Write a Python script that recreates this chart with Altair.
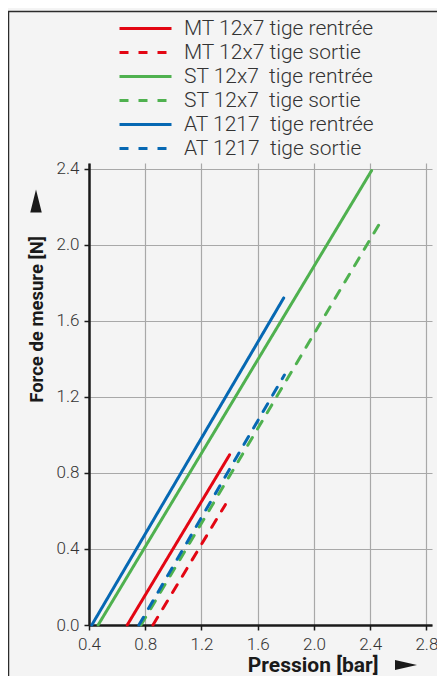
import altair as alt
import pandas as pd

NB = "\u00a0"
series = [
    "MT 12x7" + NB + "tige rentrée",
    "MT 12x7" + NB + "tige sortie",
    "ST 12x7" + NB * 2 + "tige rentrée",
    "ST 12x7" + NB * 2 + "tige sortie",
    "AT 1217" + NB * 2 + "tige rentrée",
    "AT 1217" + NB * 2 + "tige sortie",
]
colors = ["#e30613", "#e30613", "#4fb14f", "#4fb14f", "#0668b3", "#0668b3"]
dashes = [[1, 0], [9, 10], [1, 0], [9, 10], [1, 0], [9, 10]]

# start / end points of each (straight) characteristic line
x_start = [0.672, 0.855, 0.465, 0.77, 0.42, 0.755]
y_start = [0.0, 0.0, 0.0, 0.0, 0.0, 0.0]
x_end = [1.40, 1.37, 2.41, 2.49, 1.785, 1.79]
y_end = [0.895, 0.633, 2.39, 2.14, 1.72, 1.315]

x_ticks = [0.4, 0.8, 1.2, 1.6, 2.0, 2.4, 2.8]
y_ticks = [0.0, 0.4, 0.8, 1.2, 1.6, 2.0, 2.4]

rows = []
for i, s in enumerate(series):
    rows.append({"series": s, "p": x_start[i], "f": y_start[i], "k": 0})
    rows.append({"series": s, "p": x_end[i], "f": y_end[i], "k": 1})
df = pd.DataFrame(rows)

FONT = "Roboto"
TXT = "#333333"
DARK = "#1a1a1a"

lines = alt.Chart(df).mark_line(strokeWidth=3, strokeCap="round").encode(
    x=alt.X("p:Q",
            scale=alt.Scale(domain=[0.4, 2.84], nice=False, zero=False),
            axis=alt.Axis(values=x_ticks, format=".1f",
                          title="Pression [bar]",
                          titleX=289, titleY=40, titleAlign="right",
                          titleBaseline="middle", titleAnchor="end",
                          titleFontSize=21,
                          labelPadding=6, labelFlush=False)),
    y=alt.Y("f:Q",
            scale=alt.Scale(domain=[0, 2.43], nice=False),
            axis=alt.Axis(values=y_ticks, format=".1f",
                          title="Force de mesure [N]",
                          titleX=-53, titleY=156, titleAlign="center",
                          titleBaseline="middle", titleAngle=-90,
                          titleFontSize=18.5,
                          labelPadding=5, labelFlush=False)),
    color=alt.Color("series:N", sort=series,
                    scale=alt.Scale(domain=series, range=colors),
                    legend=alt.Legend(title=None, orient="none",
                                      legendX=29, legendY=-145)),
    strokeDash=alt.StrokeDash("series:N", sort=series,
                              scale=alt.Scale(domain=series, range=dashes),
                              legend=alt.Legend(title=None, orient="none",
                                                legendX=29, legendY=-145)),
    order="k:Q",
)

one = pd.DataFrame({"a": [0]})
left_border = alt.Chart(one).mark_rule(color="#2b2b2b", strokeWidth=1.5).encode(
    x=alt.value(-80.5), y=alt.value(-151.5), y2=alt.value(520))
top_border = alt.Chart(one).mark_rule(color="#2b2b2b", strokeWidth=1.5).encode(
    x=alt.value(-81), x2=alt.value(360), y=alt.value(-151.5))
x_arrow = alt.Chart(one).mark_point(
    shape="M-1,-0.45L1,0L-1,0.45Z", size=484, filled=True, opacity=1,
    color=DARK, strokeWidth=0).encode(
    x=alt.value(317), y=alt.value(502))
y_arrow = alt.Chart(one).mark_point(
    shape="M-0.5,1L0,-1L0.5,1Z", size=529, filled=True, opacity=1,
    color=DARK, strokeWidth=0).encode(
    x=alt.value(-53), y=alt.value(38))

chart = alt.layer(left_border, top_border, lines, x_arrow, y_arrow).properties(
    width=343, height=462,
    padding={"left": 81, "top": 155, "right": 5, "bottom": 51},
    autosize=alt.AutoSizeParams(type="none"),
).configure(
    background="#f4f4f4",
).configure_view(
    strokeWidth=0,
).configure_axis(
    grid=True, gridColor="#a8a8a8", gridWidth=1.2,
    domainColor=DARK, domainWidth=2.5,
    tickColor=DARK, tickSize=5, tickWidth=1.5,
    labelFont=FONT, labelFontSize=17, labelColor=TXT, labelFontWeight=300,
    titleFont=FONT, titleColor=DARK, titleFontWeight="bold",
).configure_legend(
    symbolType="stroke", symbolSize=2704, symbolStrokeWidth=3,
    labelFont=FONT, labelFontSize=21, labelColor=TXT, labelFontWeight=300,
    labelOffset=11, clipHeight=21, rowPadding=2, padding=0,
    labelLimit=400,
)

chart.save("out.html", embed_options={"renderer": "svg", "actions": False})
